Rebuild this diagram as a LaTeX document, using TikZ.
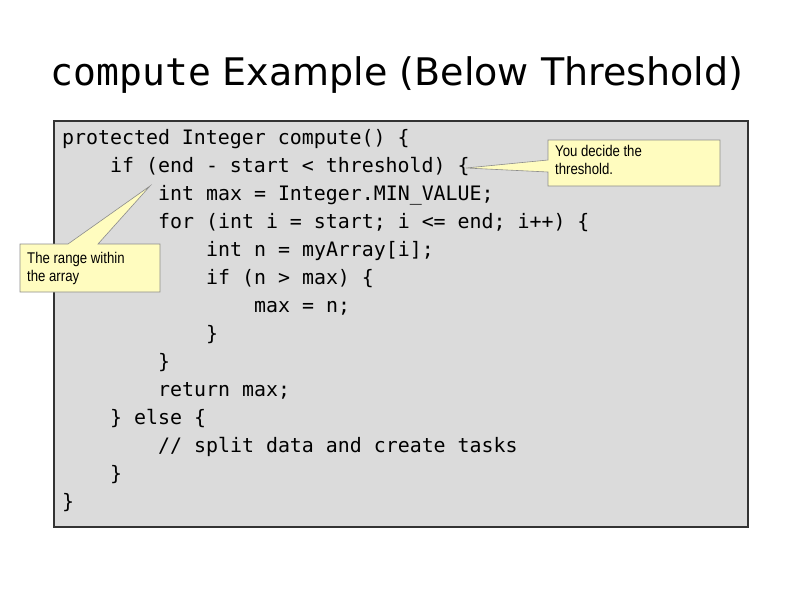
\documentclass[tikz,border=0pt]{standalone}
\usepackage{fontspec}
\setmainfont{DejaVu Sans}
\setmonofont{DejaVu Sans Mono}
\newfontfamily\callfont{Liberation Sans}[FakeStretch=0.85]
\begin{document}
\begin{tikzpicture}[x=1pt,y=-1pt,
  code/.style={anchor=base west,inner sep=0pt,font=\fontsize{19.9}{20}\ttfamily},
  callbox/.style={draw=black!45,fill=yellow!25,line width=0.6pt},
  calltext/.style={anchor=north west,align=left,inner sep=0pt,font=\fontsize{15.5}{18}\callfont}]
\useasboundingbox (0,0) rectangle (800,600);
\node[inner sep=0pt,font=\fontsize{38}{40}\selectfont] (title) at (397,75) {{\ttfamily compute} Example (Below Threshold)};
\draw[fill=black!14,draw=black!80,line width=1.5pt] (54,121) rectangle (748,527);
\foreach \t/\ind [count=\i from 0] in {
 {protected Integer compute() \{}/0,
 {if (end - start < threshold) \{}/4,
 {int max = Integer.MIN\_VALUE;}/8,
 {for (int i = start; i <= end; i++) \{}/8,
 {int n = myArray[i];}/12,
 {if (n > max) \{}/12,
 {max = n;}/16,
 {\}}/12,
 {\}}/8,
 {return max;}/8,
 {\} else \{}/4,
 {// split data and create tasks}/8,
 {\}}/4,
 {\}}/0}
 \node[code] (l\i) at ({62+12*\ind},{144+28*\i}) {\t};
% callout 1
\coordinate (tip1) at (466,168);
\draw[callbox] (548,140) -- (720,140) -- (720,186) -- (548,186) -- (548,172) -- (tip1) -- (548,160) -- cycle;
\node[calltext] (c1) at (555,145) {You decide the\\threshold.};
% callout 2
\coordinate (tip2) at (150,186);
\draw[callbox] (20,244) -- (68,244) -- (tip2) -- (98,244) -- (160,244) -- (160,292) -- (20,292) -- cycle;
\node[calltext] (c2) at (27,252) {The range within\\the array};
\end{tikzpicture}
\end{document}
